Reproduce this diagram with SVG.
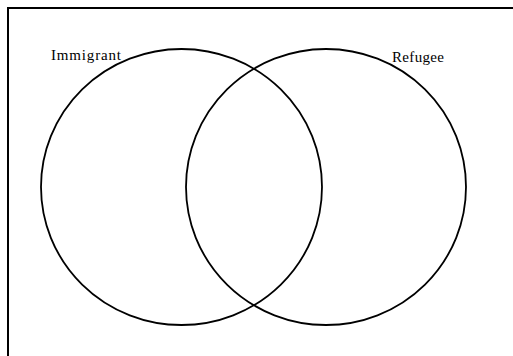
<svg xmlns="http://www.w3.org/2000/svg" width="513" height="356" viewBox="0 0 513 356">
<style>
.frame{fill:none;stroke:#000;stroke-width:2}
.set{fill:none;stroke:#000;stroke-width:1.8}
.lbl{font-family:"Liberation Serif","Times New Roman",serif;font-size:15px;fill:#000}
</style>
<rect width="513" height="356" fill="#fff"/>
<rect class="frame" x="8" y="8" width="520" height="360"/>
<g id="immigrant">
<ellipse class="set" cx="181.5" cy="187" rx="140.5" ry="138"/>
<text class="lbl" x="51" y="60" textLength="70" lengthAdjust="spacing">Immigrant</text>
</g>
<g id="refugee">
<ellipse class="set" cx="326" cy="187" rx="140" ry="138"/>
<text class="lbl" x="392" y="62" textLength="52" lengthAdjust="spacing">Refugee</text>
</g>
<g id="connectors"/>
</svg>
